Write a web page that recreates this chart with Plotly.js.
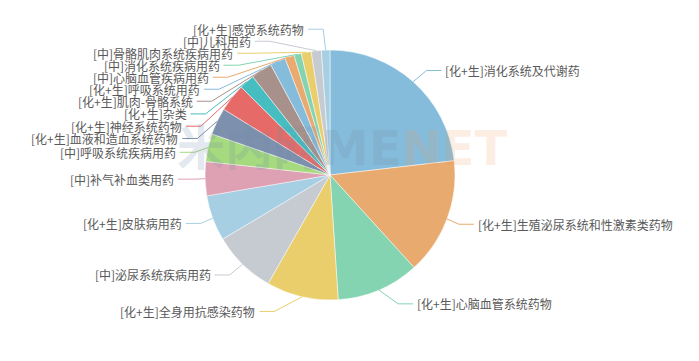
<!DOCTYPE html>
<html>
<head>
<meta charset="utf-8">
<script src="https://cdn.plot.ly/plotly-3.0.1.min.js"></script>
<style>
  html, body { margin: 0; padding: 0; background: #ffffff; }
  #chart { width: 699px; height: 361px; }
</style>
</head>
<body>
<div id="chart"></div>
<script>
// Drug categories and their share of the total (percent), clockwise from 12 o'clock
const categories = [
  '[化+生]消化系统及代谢药',
  '[化+生]生殖泌尿系统和性激素类药物',
  '[化+生]心脑血管系统药物',
  '[化+生]全身用抗感染药物',
  '[中]泌尿系统疾病用药',
  '[化+生]皮肤病用药',
  '[中]补气补血类用药',
  '[中]呼吸系统疾病用药',
  '[化+生]血液和造血系统药物',
  '[化+生]神经系统药物',
  '[化+生]杂类',
  '[化+生]肌肉-骨骼系统',
  '[化+生]呼吸系统用药',
  '[中]心脑血管疾病用药',
  '[中]消化系统疾病用药',
  '[中]骨骼肌肉系统疾病用药',
  '[中]儿科用药',
  '[化+生]感觉系统药物'
];
const shares = [23.2, 15.1, 10.7, 9.3, 8.2, 5.9, 4.4, 3.6, 3.5, 3.6, 2.0, 2.75, 2.0, 1.2, 0.95, 1.3, 1.3, 1.1];

// 12-colour palette, repeated
const palette = ['#86bcdb', '#e8aa6e', '#84d4b2', '#ebce6c', '#c6cbd2', '#a7cfe3',
                 '#dda1b3', '#a5da7f', '#7d90ad', '#e66b68', '#46bec1', '#a8918b'];
const sliceColors = categories.map((_, i) => palette[i % palette.length]);

const W = 699, H = 361;
const CX = 330, CY = 175, R = 125;

// label-line geometry
const LINE_LEN = 15, LINE_LEN2 = 15, LABEL_DIST = 5, LABEL_H = 12;
const LABEL_FONT = { family: '"Noto Sans CJK SC", "Noto Sans", sans-serif', size: 12, color: '#595959' };

const trace = {
  type: 'pie',
  labels: categories,
  values: shares,
  sort: false,
  direction: 'clockwise',
  rotation: 0,
  textinfo: 'none',
  textposition: 'none',
  hoverinfo: 'label+percent',
  marker: { colors: sliceColors, line: { color: 'rgba(255,255,255,0.8)', width: 0.6 } },
  domain: {
    x: [(CX - R) / W, (CX + R) / W],
    y: [(H - CY - R) / H, (H - CY + R) / H]
  },
  showlegend: false
};

const layout = {
  width: W, height: H,
  margin: { l: 0, r: 0, t: 0, b: 0 },
  paper_bgcolor: '#ffffff',
  plot_bgcolor: '#ffffff',
  showlegend: false
};

const gd = document.getElementById('chart');

Plotly.newPlot(gd, [trace], layout, { staticPlot: true, displayModeBar: false }).then(() => {
  const cd = gd.calcdata[0];
  const cx = cd[0].cx, cy = cd[0].cy, r = cd[0].r;
  const gs = gd._fullLayout._size;
  const px = x => (x - gs.l) / gs.w;
  const py = y => 1 - (y - gs.t) / gs.h;

  // initial outside label positions (radial first segment, horizontal second)
  const items = cd.map(pt => {
    const ux = pt.pxmid[0] / r, uy = pt.pxmid[1] / r;
    const x1 = cx + r * ux, y1 = cy + r * uy;
    const x2 = x1 + ux * LINE_LEN, y2 = y1 + uy * LINE_LEN;
    const dir = ux < 0 ? -1 : 1;
    const x3 = x2 + dir * LINE_LEN2;
    return {
      i: pt.i, dir, x: x3 + dir * LABEL_DIST, y: y2, height: LABEL_H,
      pts: [[x1, y1], [x2, y2], [x3, y2]]
    };
  });

  function changeX(list, isDown, dir) {
    let last = isDown ? Infinity : 0;
    const R3 = r + LINE_LEN + LINE_LEN2;
    list.forEach(it => {
      const dY = Math.abs(it.y - cy);
      let dX = dY < r + LINE_LEN ? Math.sqrt(R3 * R3 - dY * dY) : Math.abs(it.x - cx);
      if (isDown && dX >= last) dX = last - 10;
      if (!isDown && dX <= last) dX = last + 10;
      it.x = cx + dX * dir;
      last = dX;
    });
  }

  // push overlapping labels apart on one side of the pie
  function adjustSide(list, dir) {
    if (!list.length) return;
    list.sort((a, b) => a.y - b.y);
    const n = list.length;
    function shiftUp(end, delta) {
      for (let j = end; j >= 0; j--) {
        if (list[j].y - delta < 0) break;
        list[j].y -= delta;
        if (j > 0 && list[j].y > list[j - 1].y + list[j - 1].height) break;
      }
    }
    function shiftDown(start, end, delta) {
      for (let j = start; j < end; j++) {
        if (list[j].y + delta > H) break;
        list[j].y += delta;
        if (j > start && j + 1 < end && list[j + 1].y > list[j].y + list[j].height) {
          shiftUp(j, delta / 2);
          return;
        }
      }
      shiftUp(end - 1, delta / 2);
    }
    let lastY = 0;
    for (let i = 0; i < n; i++) {
      const delta = list[i].y - lastY;
      if (delta < 0) shiftDown(i, n, -delta);
      lastY = list[i].y + list[i].height;
    }
    if (H - lastY < 0) shiftUp(n - 1, lastY - H);
    changeX(list.filter(it => it.y < cy), false, dir);
    changeX(list.filter(it => it.y >= cy), true, dir);
  }

  adjustSide(items.filter(it => it.dir > 0), 1);
  adjustSide(items.filter(it => it.dir < 0), -1);

  const shapes = [];
  const annotations = [];
  items.forEach(it => {
    const p = it.pts;
    const dist = p[1][0] - p[2][0];
    p[2][0] = it.x < cx ? it.x + 3 : it.x - 3;
    p[1][1] = p[2][1] = it.y;
    p[1][0] = p[2][0] + dist;
    shapes.push({
      type: 'path', xref: 'paper', yref: 'paper',
      path: 'M' + p.map(q => px(q[0]).toFixed(5) + ',' + py(q[1]).toFixed(5)).join('L'),
      line: { color: sliceColors[it.i], width: 1 }
    });
    annotations.push({
      xref: 'paper', yref: 'paper',
      x: px(it.x), y: py(it.y),
      xanchor: it.x < cx ? 'right' : 'left', yanchor: 'middle',
      text: categories[it.i], showarrow: false,
      font: LABEL_FONT, borderpad: 0
    });
  });

  // faint brand watermark
  annotations.push({
    xref: 'paper', yref: 'paper', x: 342 / W, y: 1 - 148 / H,
    xanchor: 'center', yanchor: 'middle', showarrow: false,
    text: '<span style="color:rgba(110,140,165,0.2)">米内网ME</span><span style="color:rgba(240,150,80,0.17)">NET</span>',
    font: { family: '"DejaVu Sans", "Noto Sans CJK SC", sans-serif', size: 48, weight: 'bold' }
  });

  return Plotly.relayout(gd, { shapes, annotations });
});
</script>
</body>
</html>
